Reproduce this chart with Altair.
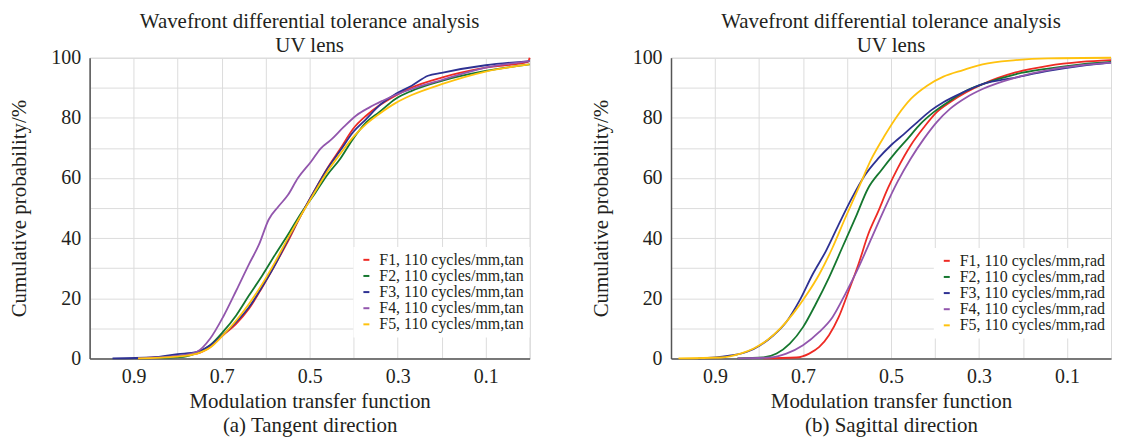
import altair as alt
import pandas as pd

# ---------------- data ----------------
tan_names = ["F1, 110 cycles/mm,tan", "F2, 110 cycles/mm,tan", "F3, 110 cycles/mm,tan",
             "F4, 110 cycles/mm,tan", "F5, 110 cycles/mm,tan"]
rad_names = ["F1, 110 cycles/mm,rad", "F2, 110 cycles/mm,rad", "F3, 110 cycles/mm,rad",
             "F4, 110 cycles/mm,rad", "F5, 110 cycles/mm,rad"]
series_colors = ["#ee2a24", "#15772f", "#2e3192", "#9256ad", "#ffc20e"]

x_ticks = [0.0, 0.1, 0.2, 0.3, 0.4, 0.5, 0.6, 0.7, 0.8, 0.9, 1.0]
y_ticks = [0, 10, 20, 30, 40, 50, 60, 70, 80, 90, 100]

# (a) Tangent direction
tan_f1_mtf = [0.89, 0.80, 0.756, 0.726, 0.697, 0.667, 0.638, 0.608, 0.578, 0.549, 0.519, 0.490,
              0.460, 0.430, 0.401, 0.371, 0.342, 0.305, 0.268, 0.20, 0.10, 0.004, 0.0]
tan_f1_p = [0, 0.8, 1.6, 3.8, 7.7, 11.5, 16.5, 23.6, 31.3, 39.0, 47.8, 55.5,
            63.2, 69.8, 76.4, 80.8, 84.1, 87.4, 90.1, 93.4, 96.7, 98.6, 100]
tan_f2_mtf = [0.89, 0.786, 0.756, 0.726, 0.697, 0.667, 0.638, 0.608, 0.578, 0.549, 0.519, 0.490,
              0.460, 0.430, 0.401, 0.371, 0.342, 0.305, 0.268, 0.20, 0.10, 0.0]
tan_f2_p = [0, 0.5, 1.9, 4.4, 8.8, 14.3, 20.9, 27.5, 34.6, 41.2, 48.4, 54.4,
            61.0, 66.5, 73.1, 78.6, 81.9, 86.3, 89.0, 92.3, 95.6, 97.8]
tan_f3_mtf = [0.948, 0.859, 0.80, 0.756, 0.726, 0.697, 0.667, 0.638, 0.608, 0.578, 0.549, 0.519,
              0.490, 0.460, 0.430, 0.401, 0.371, 0.342, 0.305, 0.268, 0.231, 0.20, 0.10, 0.0]
tan_f3_p = [0, 0.3, 1.4, 2.2, 4.4, 7.9, 12.1, 17.0, 23.8, 31.3, 39.6, 47.8,
            55.5, 63.0, 69.2, 75.3, 79.7, 84.1, 87.9, 90.7, 94.0, 95.0, 97.5, 98.9]
tan_f4_mtf = [0.89, 0.80, 0.756, 0.726, 0.697, 0.667, 0.638, 0.615, 0.593, 0.571, 0.549, 0.527,
              0.497, 0.475, 0.453, 0.423, 0.394, 0.364, 0.334, 0.305, 0.268, 0.20, 0.10, 0.0]
tan_f4_p = [0, 0.8, 2.2, 6.6, 13.7, 22.5, 31.3, 37.9, 46.2, 50.5, 54.4, 59.9,
            65.4, 69.8, 72.5, 76.9, 80.8, 83.5, 85.7, 87.6, 89.6, 92.6, 96.7, 98.9]
tan_f5_mtf = [0.89, 0.80, 0.756, 0.726, 0.697, 0.667, 0.638, 0.608, 0.578, 0.549, 0.519, 0.490,
              0.460, 0.430, 0.401, 0.371, 0.342, 0.305, 0.268, 0.20, 0.10, 0.0]
tan_f5_p = [0, 0.6, 1.6, 3.6, 7.7, 12.6, 18.1, 24.7, 32.2, 40.1, 47.8, 54.9,
            62.1, 68.1, 73.6, 78.0, 81.3, 84.9, 87.6, 91.2, 95.4, 97.8]

# (b) Sagittal direction
rad_f1_mtf = [0.79, 0.715, 0.686, 0.663, 0.641, 0.619, 0.596, 0.574, 0.552, 0.529, 0.507, 0.485,
              0.455, 0.425, 0.396, 0.366, 0.329, 0.292, 0.217, 0.143, 0.068, 0.0]
rad_f1_p = [0, 0.3, 1.6, 3.8, 7.7, 13.7, 22.5, 31.3, 41.2, 48.9, 56.6, 63.2,
            70.9, 76.9, 81.9, 85.2, 88.5, 91.2, 95.1, 97.3, 98.6, 99.2]
rad_f2_mtf = [0.849, 0.79, 0.76, 0.73, 0.70, 0.671, 0.641, 0.611, 0.581, 0.552, 0.522, 0.492,
              0.462, 0.433, 0.403, 0.366, 0.329, 0.292, 0.217, 0.143, 0.068, 0.0]
rad_f2_p = [0, 0.3, 1.6, 4.9, 10.4, 18.1, 26.9, 36.8, 46.7, 56.6, 62.6, 68.1,
            73.1, 78.0, 81.9, 85.7, 89.0, 91.2, 94.5, 96.4, 97.8, 98.6]
rad_f3_mtf = [0.938, 0.871, 0.827, 0.797, 0.767, 0.738, 0.708, 0.678, 0.648, 0.619, 0.589, 0.559,
              0.529, 0.50, 0.47, 0.44, 0.41, 0.381, 0.336, 0.292, 0.217, 0.143, 0.068, 0.0]
rad_f3_p = [0, 0.8, 2.2, 4.4, 7.7, 12.1, 19.2, 28.0, 35.7, 44.5, 53.3, 61.0,
            66.5, 70.9, 74.7, 78.6, 82.4, 85.2, 88.5, 91.2, 93.4, 95.6, 97.3, 98.4]
rad_f4_mtf = [0.849, 0.775, 0.738, 0.70, 0.663, 0.633, 0.604, 0.574, 0.544, 0.514, 0.485, 0.455,
              0.425, 0.396, 0.366, 0.329, 0.292, 0.217, 0.143, 0.068, 0.0]
rad_f4_p = [0, 0.3, 1.6, 4.4, 8.8, 13.7, 21.4, 30.2, 40.1, 50.0, 58.8, 66.5,
            73.1, 78.6, 83.0, 86.8, 89.6, 93.4, 95.9, 97.5, 98.4]
rad_f5_mtf = [0.983, 0.886, 0.842, 0.812, 0.782, 0.752, 0.723, 0.693, 0.663, 0.633, 0.604, 0.574,
              0.544, 0.514, 0.485, 0.455, 0.418, 0.381, 0.336, 0.292, 0.217, 0.143, 0.0]
rad_f5_p = [0, 0.3, 1.6, 3.3, 6.0, 9.9, 14.8, 20.9, 28.0, 36.8, 46.7, 56.6,
            66.5, 74.2, 80.8, 86.3, 90.7, 93.7, 95.9, 97.8, 99.2, 99.8, 100]

FONT = "'Liberation Serif', 'Times New Roman', Times, serif"
TXT = "#231f20"


def build_rows(names, mtfs, probs):
    rows = []
    for name, xs, ps in zip(names, mtfs, probs):
        for i, (xv, pv) in enumerate(zip(xs, ps)):
            rows.append({"series": name, "mtf": xv, "prob": pv, "idx": i})
    return pd.DataFrame(rows)


def panel(df, names, subtitle, lx, ly):
    return alt.Chart(
        df,
        title=alt.Title(["Wavefront differential tolerance analysis", "UV lens"],
                        font=FONT, fontSize=21, fontWeight="normal", color=TXT,
                        lineHeight=24, anchor="middle", frame="group", offset=-8),
    ).mark_line(strokeWidth=1.8, interpolate="monotone").encode(
        x=alt.X("mtf:Q",
                scale=alt.Scale(domain=[0, 1], reverse=True, nice=False, zero=False),
                axis=alt.Axis(values=x_ticks,
                              labelExpr="(round(datum.value*10) % 2 == 1) ? format(datum.value, '.1f') : ''",
                              labelFont=FONT, labelFontSize=20, labelColor=TXT,
                              titleFont=FONT, titleFontSize=21, titleColor=TXT,
                              titleFontWeight="normal",
                              title=["Modulation transfer function", subtitle],
                              titleLineHeight=24, titlePadding=4, labelPadding=8)),
        y=alt.Y("prob:Q",
                scale=alt.Scale(domain=[0, 100], nice=False),
                axis=alt.Axis(values=y_ticks,
                              labelExpr="(datum.value % 20 == 0) ? datum.label : ''",
                              labelFont=FONT, labelFontSize=20, labelColor=TXT,
                              titleFont=FONT, titleFontSize=21, titleColor=TXT,
                              titleFontWeight="normal",
                              title="Cumulative probability/%", titlePadding=21, labelPadding=9)),
        color=alt.Color("series:N",
                        scale=alt.Scale(domain=names, range=series_colors),
                        legend=alt.Legend(orient="none", legendX=lx, legendY=ly, title=None,
                                          symbolType="stroke", symbolSize=36, symbolStrokeWidth=2,
                                          labelFont=FONT, labelFontSize=16, labelColor=TXT,
                                          labelLimit=400, labelOffset=5, rowPadding=0.2,
                                          fillColor="white", padding=5)),
        order=alt.Order("idx:Q"),
    ).properties(width=442, height=302)


df_tan = build_rows(tan_names,
                    [tan_f1_mtf, tan_f2_mtf, tan_f3_mtf, tan_f4_mtf, tan_f5_mtf],
                    [tan_f1_p, tan_f2_p, tan_f3_p, tan_f4_p, tan_f5_p])
df_rad = build_rows(rad_names,
                    [rad_f1_mtf, rad_f2_mtf, rad_f3_mtf, rad_f4_mtf, rad_f5_mtf],
                    [rad_f1_p, rad_f2_p, rad_f3_p, rad_f4_p, rad_f5_p])

left = panel(df_tan, tan_names, "(a) Tangent direction", 265, 190)
right = panel(df_rad, rad_names, "(b) Sagittal direction", 264, 191)

chart = alt.hconcat(left, right, spacing=55).resolve_scale(color="independent").configure(
    padding={"left": 0, "top": 1, "right": 0, "bottom": 0},
    background="white",
).configure_view(
    stroke="#d6d6d6", strokeWidth=1
).configure_axis(
    grid=True, gridColor="#dcdcdc", gridWidth=1,
    domainColor="#555555", domainWidth=1.5,
    ticks=False, labelOverlap=False,
)

chart.save("out.html", embed_options={"renderer": "svg", "actions": False})
